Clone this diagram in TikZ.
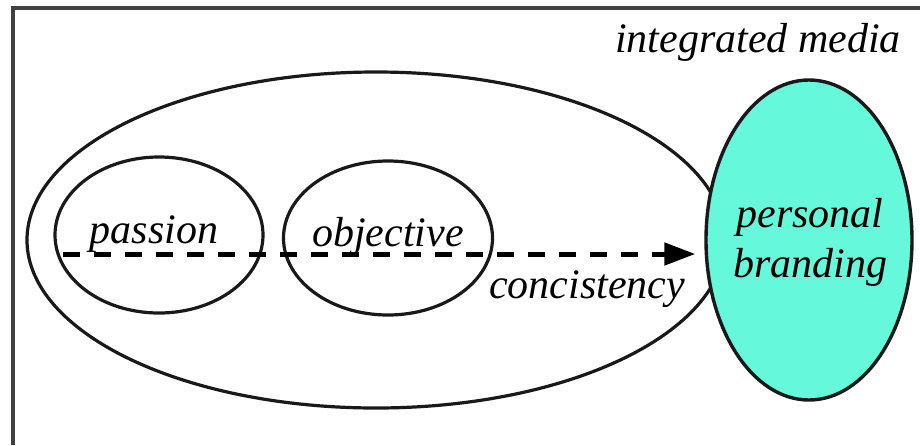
\documentclass[tikz,border=0pt]{standalone}
\usepackage{fontspec}
\setmainfont{Liberation Serif}
\usetikzlibrary{shapes.geometric,arrows.meta}
\definecolor{brandfill}{HTML}{66F8DA}
\definecolor{framegray}{HTML}{404040}
\tikzset{
  oval/.style={draw=black!90, line width=3.2pt, ellipse, inner sep=0pt},
  word/.style={font=\fontsize{42}{50}\selectfont\itshape, inner sep=0pt, anchor=base},
}
\begin{document}
\begin{tikzpicture}[x=1pt, y=-1pt]
  \useasboundingbox (0,0) rectangle (920,445);
  % frame (open to the right and below)
  \draw[framegray, line width=3.5pt] (13,445) -- (13,8) -- (920,8);
  % title
  \node[word] (title) at (758,52) {integrated media};
  % outer ellipse
  \node[oval, minimum width=698pt, minimum height=336pt] (media) at (376,240) {};
  % inner ellipses
  \node[oval, minimum width=208pt, minimum height=156pt] (passion) at (159,235) {};
  \node[oval, minimum width=209pt, minimum height=154pt] (objective) at (388,238) {};
  \node[word] (passiontxt) at (154,243) {passion};
  \node[word] (objectivetxt) at (388,246) {objective};
  % personal branding
  \node[oval, fill=brandfill, line width=3.4pt, minimum width=206pt, minimum height=320pt] (brand) at (809,240) {};
  \node[word] (brandtxt1) at (810,227) {personal};
  \node[word] (brandtxt2) at (810,277) {branding};
  % dashed arrow
  \coordinate (start) at (63,254);
  \draw[line width=5pt, dash pattern=on 17pt off 14pt, -{Triangle[length=31pt,width=22pt]}, shorten >=9pt]
    (start) -- (start -| brand.west);
  \node[word] (consist) at (587,298) {concistency};
\end{tikzpicture}
\end{document}
